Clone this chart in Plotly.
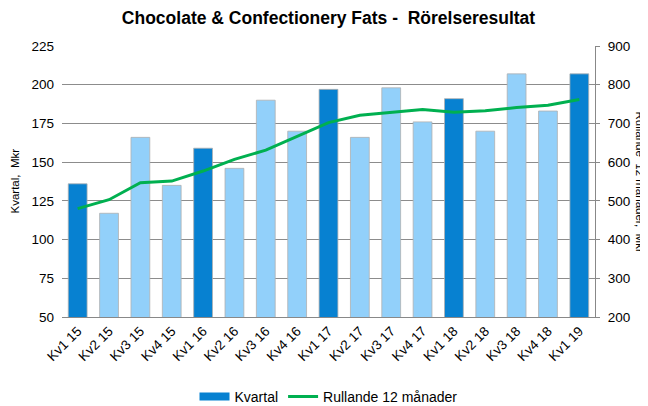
import plotly.graph_objects as go

categories = ["Kv1 15", "Kv2 15", "Kv3 15", "Kv4 15", "Kv1 16", "Kv2 16", "Kv3 16", "Kv4 16",
              "Kv1 17", "Kv2 17", "Kv3 17", "Kv4 17", "Kv1 18", "Kv2 18", "Kv3 18", "Kv4 18", "Kv1 19"]
kvartal = [136, 117, 166, 135, 159, 146, 190, 170, 197, 166, 198, 176, 191, 170, 207, 183, 207]
rullande = [480, 503, 547, 551, 577, 607, 631, 666, 702, 721, 728, 736, 729, 733, 741, 747, 762]

DARK = "#0781D1"
LIGHT = "#92D0FA"
bar_colors = [DARK if c.startswith("Kv1") else LIGHT for c in categories]

fig = go.Figure()
fig.add_trace(go.Bar(
    x=categories, y=kvartal, name="Kvartal", showlegend=False,
    marker=dict(color=bar_colors, line=dict(color="#B0B0B0", width=0.8)),
    yaxis="y",
))
# legend entry for the bars drawn as a flat wide swatch, like the original
fig.add_trace(go.Scatter(
    x=[categories[0]], y=[None], name="Kvartal", mode="lines",
    line=dict(color=DARK, width=8), yaxis="y", hoverinfo="skip",
))
fig.add_trace(go.Scatter(
    x=categories, y=rullande, name="Rullande 12 månader",
    mode="lines", line=dict(color="#00B050", width=3),
    yaxis="y2",
))

# page body has an 8px margin, so the figure is 640x398 placed at (8, 8)
W, H = 640, 398
L, T, R, B = 54, 38, 53, 89
PW = W - L - R
PH = H - T - B

font_family = "Liberation Sans, Arial, sans-serif"
fig.update_layout(
    width=W, height=H,
    margin=dict(l=L, r=R, t=T, b=B, autoexpand=False),
    paper_bgcolor="white", plot_bgcolor="white",
    font=dict(family=font_family, size=13.5, color="#000000"),
    title=dict(text="<b>Chocolate & Confectionery Fats -  Rörelseresultat</b>",
               x=0.5, xanchor="center", xref="paper", y=1 - 10 / H, yref="container",
               yanchor="middle", font=dict(size=17.5, family=font_family)),
    bargap=0.4,
    showlegend=True,
    legend=dict(orientation="h", x=0.5, xanchor="center", y=-(389 - (T + PH)) / PH,
                yanchor="middle", font=dict(size=14), bgcolor="rgba(0,0,0,0)"),
    xaxis=dict(tickangle=-45, showgrid=False, showline=True, linecolor="#888888",
               linewidth=1, ticks="", tickfont=dict(size=13.5), automargin=False),
    yaxis=dict(range=[50, 225], dtick=25, showgrid=True, gridcolor="#8C8C8C", gridwidth=1,
               showline=False, zeroline=False, ticks="", tickfont=dict(size=13.5),
               ticklabelstandoff=7, automargin=False),
    yaxis2=dict(range=[200, 900], dtick=100, overlaying="y", side="right", showgrid=False,
                showline=True, linecolor="#888888", linewidth=1, ticks="outside",
                ticklen=4, tickcolor="#888888", zeroline=False, tickfont=dict(size=13.5),
                ticklabelstandoff=5, automargin=False),
    annotations=[
        dict(text="Kvartal,  Mkr", textangle=-90, x=(6 - L) / PW, xref="paper",
             y=0.5, yref="paper", showarrow=False, font=dict(size=11.5),
             xanchor="center", yanchor="middle"),
        dict(text="Rullande  12 månader,  Mkr", textangle=90, x=(632 - L) / PW, xref="paper",
             y=0.5, yref="paper", showarrow=False, font=dict(size=11.5),
             xanchor="center", yanchor="middle"),
    ],
)

fig.write_html("out.html")
